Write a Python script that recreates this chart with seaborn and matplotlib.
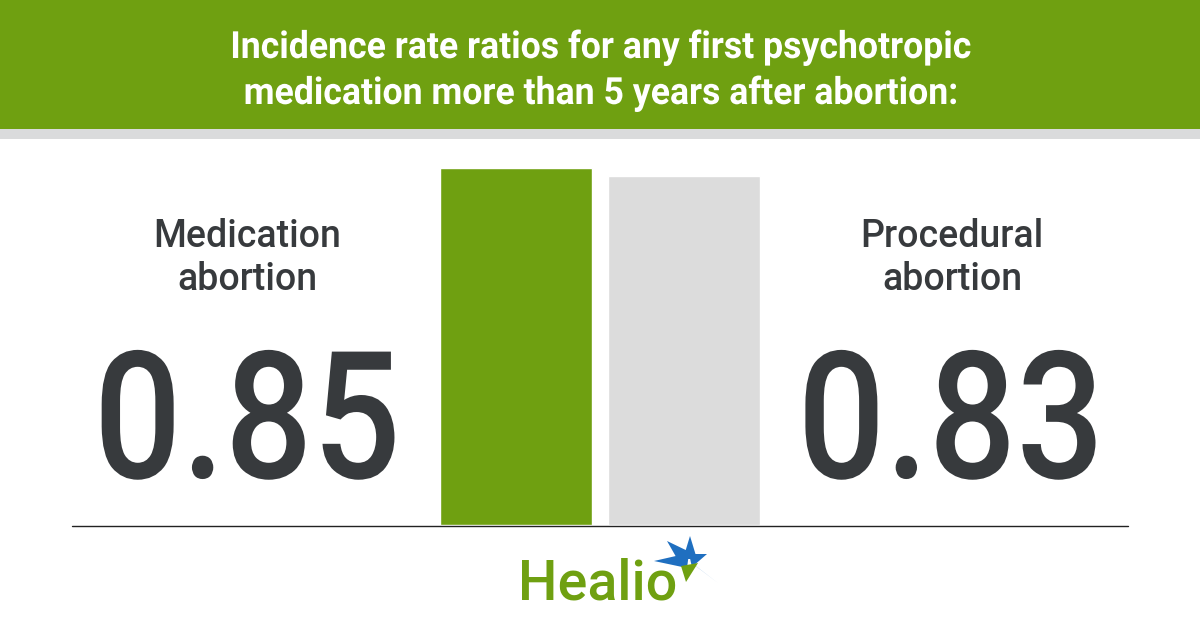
import matplotlib
matplotlib.use('Agg')
import pandas as pd
import seaborn as sns
import matplotlib.pyplot as plt
from matplotlib.patches import Rectangle, Polygon
from matplotlib.patheffects import AbstractPathEffect
from matplotlib.transforms import Affine2D

# data
groups = ['Medication\nabortion', 'Procedural\nabortion']
ratios = [0.85, 0.83]
value_labels = ['0.85', '0.83']
title_lines = ['Incidence rate ratios for any first psychotropic',
               'medication more than 5 years after abortion:']

green = '#6fa011'
light = '#dcdcdc'
dark = '#373a3d'
blue = '#1f6fc0'


# narrow the drawn glyphs horizontally (stand-in for a condensed font)
class Squeeze(AbstractPathEffect):
    def __init__(self, sx):
        super().__init__()
        self.sx = sx

    def draw_path(self, renderer, gc, tpath, affine, rgbFace=None):
        ext = tpath.get_extents(affine)
        cx = (ext.x0 + ext.x1) / 2
        t = affine + Affine2D().translate(-cx, 0).scale(self.sx, 1).translate(cx, 0)
        renderer.draw_path(gc, tpath, t, rgbFace)


df = pd.DataFrame({'group': groups, 'ratio': ratios})

sns.set_theme(style='white')
plt.rcParams['font.family'] = ['Roboto', 'DejaVu Sans']

fig = plt.figure(figsize=(12, 6.3), dpi=100)

# background layer in pixel coords
bg = fig.add_axes([0, 0, 1, 1])
bg.set_xlim(0, 1200)
bg.set_ylim(630, 0)
bg.axis('off')
bg.add_patch(Rectangle((0, 0), 1200, 129, color=green, lw=0))
bg.add_patch(Rectangle((0, 129), 1200, 10, color='#dadbdc', lw=0))
for line, base in zip(title_lines, [58, 104]):
    bg.text(601, base, line, ha='center', va='baseline', color='white',
            fontsize=27, fontweight='bold', path_effects=[Squeeze(0.95)])

# group labels
for label, cx in zip(groups, [247, 952]):
    for part, base in zip(label.split('\n'), [247, 290]):
        bg.text(cx, base, part, ha='center', va='baseline', color=dark,
                fontsize=27, fontweight='medium')

# big numbers
for val, cx in zip(value_labels, [247, 951]):
    bg.text(cx, 478, val, ha='center', va='baseline', color=dark,
            fontsize=128, fontweight='medium', path_effects=[Squeeze(0.87)])

# baseline
bg.plot([72, 1128], [525.5, 525.5], color='#222222', lw=1)

# Healio logo
bg.text(598, 600, 'Healio', ha='center', va='baseline', color=green,
        fontsize=40, fontweight='medium')
star = [
    [(667, 541), (679, 562), (694, 554)],
    [(690, 536), (683, 559), (697, 559)],
    [(654, 561), (689, 553), (687, 568)],
    [(707, 554), (689, 554), (692, 567)],
    [(718, 583), (688, 560), (693, 564)],
]
for tri in star:
    bg.add_patch(Polygon(tri, color=blue, lw=0))
bg.add_patch(Polygon([(686, 582), (681, 566), (698, 563)], color=green, lw=0))

# bars
ax = fig.add_axes([424 / 1200, 105 / 630, 352 / 1200, 357 / 630])
sns.barplot(data=df, x='group', y='ratio', hue='group', palette=[green, light],
            width=0.905, saturation=1, legend=False, ax=ax)
ax.set_xlim(-0.548, 1.548)
ax.set_ylim(0, 0.85)
ax.axis('off')

fig.savefig('out.png', dpi=100)
